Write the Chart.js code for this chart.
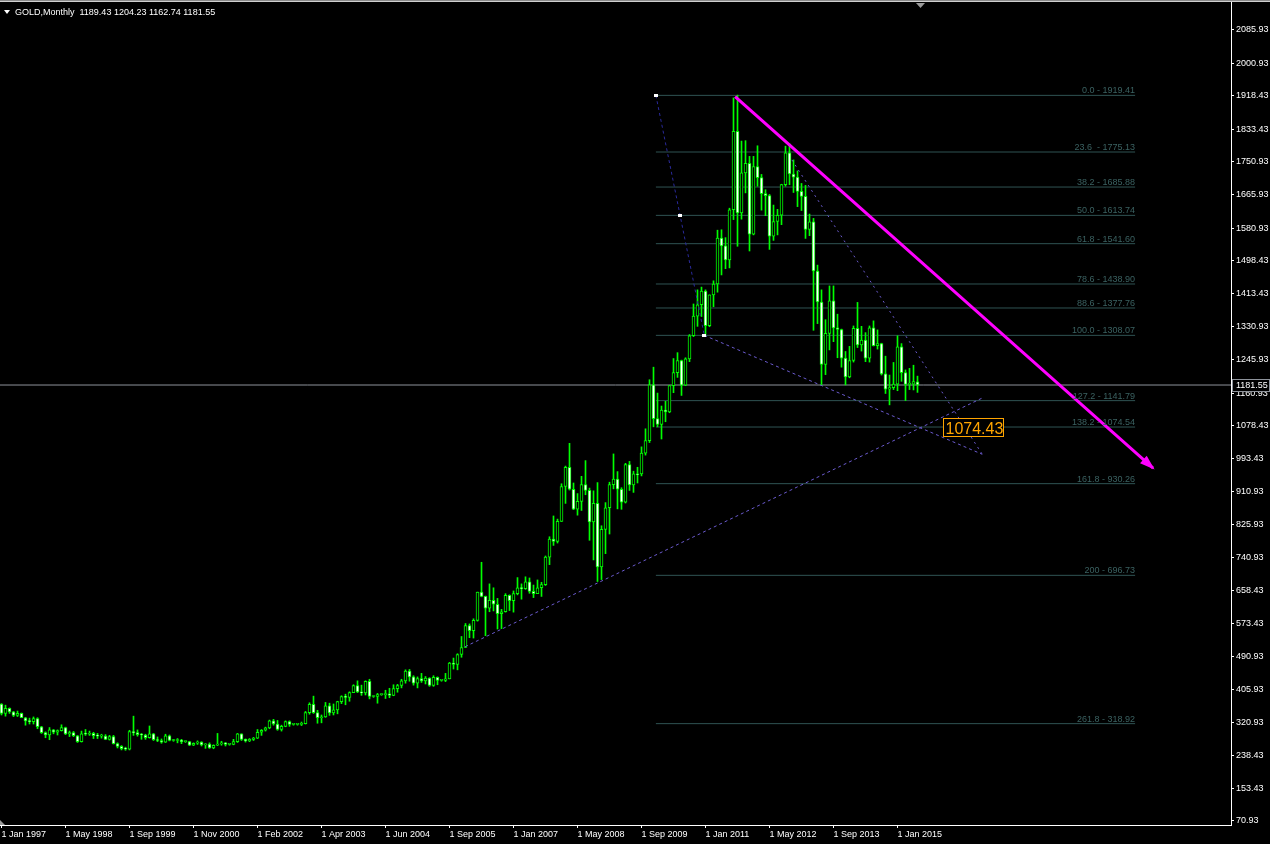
<!DOCTYPE html>
<html>
<head>
<meta charset="utf-8">
<script src="https://cdn.jsdelivr.net/npm/chart.js@4.4.0/dist/chart.umd.min.js"></script>
<style>
  html, body { margin: 0; padding: 0; background: #000; }
  #c { display: block; }
</style>
</head>
<body>
<canvas id="c" width="1270" height="844"></canvas>
<script>
// ---- data ----
const dateTicks = ["1 Jan 1997", "1 May 1998", "1 Sep 1999", "1 Nov 2000", "1 Feb 2002",
  "1 Apr 2003", "1 Jun 2004", "1 Sep 2005", "1 Jan 2007", "1 May 2008", "1 Sep 2009",
  "1 Jan 2011", "1 May 2012", "1 Sep 2013", "1 Jan 2015"];
const barsPerTick = 16;

const priceTicks = [2085.93, 2000.93, 1918.43, 1833.43, 1750.93, 1665.93, 1580.93, 1498.43,
  1413.43, 1330.93, 1245.93, 1160.93, 1078.43, 993.43, 910.93, 825.93, 740.93, 658.43,
  573.43, 490.93, 405.93, 320.93, 238.43, 153.43, 70.93];

// monthly bars, one entry per bar
const opens = [
  369,345,358,349,340,345,334,326,324,332,311,296,
  290,303,297,301,309,293,296,288,273,293,292,294,
  288,287,287,279,286,268,261,255,254,299,296,291,
  290,283,293,278,276,272,288,276,276,277,273,273,
  264,269,272,265,267,257,264,267,270,266,266,273,
  293,279,275,279,282,297,302,308,326,318,304,312,
  324,317,317,317,319,347,368,347,334,336,364,346,
  354,375,388,386,398,416,400,397,427,388,388,393,
  393,395,391,408,416,428,453,438,422,434,428,435,
  416,437,429,429,433,473,470,495,513,569,556,582,
  654,643,613,633,623,599,604,646,632,650,665,663,
  680,656,650,665,673,743,789,783,834,923,972,916,
  865,885,928,913,833,880,718,814,869,928,942,916,
  883,979,927,955,955,1008,1040,1182,1096,1081,1118,1113,
  1180,1213,1244,1181,1248,1307,1357,1386,1421,1333,1411,1439,
  1556,1536,1500,1628,1828,1620,1722,1746,1566,1738,1710,1669,
  1664,1561,1598,1614,1692,1773,1719,1711,1675,1662,1578,1597,
  1472,1393,1234,1313,1396,1327,1323,1250,1202,1244,1326,1284,
  1296,1250,1327,1282,1287,1210,1171,1175,1184,1279,1213,1183,1184,1189.43
];
const highs = [
  370,366,359,350,351,346,335,333,336,334,312,298,
  309,304,303,316,310,300,299,289,300,304,300,297,
  294,292,291,289,289,270,263,259,302,338,303,294,
  292,313,294,285,280,292,290,279,281,279,275,274,
  270,275,273,268,270,265,294,274,271,268,279,294,
  293,280,281,284,304,304,310,328,330,327,315,326,
  326,319,319,323,350,372,389,353,341,373,371,369,
  376,390,394,400,418,428,417,428,432,390,396,395,
  404,409,418,419,432,456,457,441,438,447,439,436,
  441,438,431,447,475,486,497,541,574,573,586,654,
  730,644,675,665,638,610,650,647,657,691,675,693,
  690,672,685,679,746,795,848,840,930,975,1033,932,
  905,949,989,919,912,933,823,882,934,1006,961,920,
  982,987,962,972,1024,1070,1195,1227,1161,1128,1140,1180,
  1249,1264,1245,1251,1310,1388,1424,1431,1424,1411,1447,1576,
  1577,1557,1632,1913,1920,1803,1804,1764,1764,1791,1718,1679,
  1667,1640,1629,1693,1790,1796,1755,1727,1695,1690,1617,1606,
  1487,1424,1348,1434,1434,1362,1324,1267,1280,1332,1392,1331,
  1315,1332,1345,1322,1288,1255,1207,1239,1307,1287,1220,1224,1232,1204.23
];
const lows = [
  341,338,345,337,337,334,315,318,318,306,294,283,
  278,293,290,300,291,286,286,271,272,289,289,281,
  281,282,278,277,267,257,252,251,252,289,287,279,
  279,282,276,273,269,271,275,274,270,268,271,263,
  263,266,262,256,256,255,263,264,262,264,265,271,
  276,272,273,276,281,289,300,306,315,302,300,311,
  312,315,315,314,318,343,345,320,321,335,340,341,
  344,370,367,376,398,398,391,392,382,386,371,391,
  383,385,390,399,410,422,427,417,410,424,420,414,
  414,418,427,426,433,458,456,488,513,538,537,580,
  642,543,604,606,560,561,603,607,603,647,636,661,
  651,640,650,643,671,724,773,779,834,880,914,864,
  850,862,902,786,736,681,686,752,802,917,866,865,
  881,913,908,932,950,1003,1035,1075,1075,1044,1088,1111,
  1162,1201,1155,1180,1241,1305,1331,1356,1308,1330,1381,1418,
  1462,1478,1480,1603,1535,1604,1671,1523,1564,1688,1627,1613,
  1527,1550,1564,1590,1688,1692,1672,1636,1626,1555,1562,1321,
  1338,1180,1208,1271,1292,1251,1227,1182,1200,1240,1277,1268,
  1241,1240,1281,1273,1207,1160,1131,1170,1167,1191,1142,1170,1169,1162.74
];
const closes = [
  345,358,349,340,345,334,326,324,332,311,296,290,
  303,297,301,309,293,296,288,273,293,292,294,288,
  287,287,279,286,268,261,255,254,299,296,291,290,
  283,293,278,276,272,288,276,276,277,273,273,264,
  269,272,265,267,257,264,267,270,266,266,273,293,
  279,275,279,282,297,302,308,326,318,304,312,324,
  317,317,317,319,347,368,347,334,336,364,346,354,
  375,388,386,398,416,400,397,427,388,388,393,393,
  395,391,408,416,428,453,438,422,434,428,435,416,
  437,429,429,433,473,470,495,513,569,556,582,654,
  643,613,633,623,599,604,646,632,650,665,663,680,
  656,650,665,673,743,789,783,834,923,972,916,865,
  885,928,913,833,880,718,814,869,928,942,916,883,
  979,927,955,953,1008,1040,1182,1096,1081,1118,1113,1180,
  1213,1244,1181,1248,1307,1357,1386,1421,1333,1411,1439,1556,
  1536,1500,1628,1828,1620,1722,1746,1566,1738,1710,1669,1664,
  1561,1598,1614,1692,1773,1719,1711,1675,1662,1578,1597,1472,
  1393,1234,1313,1396,1327,1323,1250,1202,1244,1326,1284,1296,
  1250,1327,1282,1287,1210,1171,1175,1184,1279,1213,1183,1184,1190,1181.55
];

// fibonacci retracement (levels and prices as labelled on the chart)
const fibLabels = ["0.0 - 1919.41", "23.6  - 1775.13", "38.2 - 1685.88", "50.0 - 1613.74",
  "61.8 - 1541.60", "78.6 - 1438.90", "88.6 - 1377.76", "100.0 - 1308.07", "127.2 - 1141.79",
  "138.2 - 1074.54", "161.8 - 930.26", "200 - 696.73", "261.8 - 318.92"];
const fibPrices = [1919.41, 1775.13, 1685.88, 1613.74, 1541.60, 1438.90, 1377.76, 1308.07,
  1141.79, 1074.54, 930.26, 696.73, 318.92];

const titleText = "GOLD,Monthly  1189.43 1204.23 1162.74 1181.55";
const markText = "1074.43";

// ---- layout (bar-index / price coordinates of drawn objects) ----
const X_MIN = -0.375, X_MAX = 307.375;
const Y_MIN = 60.74, Y_MAX = 2162.35;
const AXIS_W = 39, AXIS_H = 19;
const FIB_X0 = 163.6, FIB_X1 = 283.4;
const FIB_ANCHOR = [{x: 163.6, y: 1919.41}, {x: 175.7, y: 1308.07}];
const ARROW = [{x: 183.4, y: 1916}, {x: 287.9, y: 970}];
const LINE_A = [{x: 175.7, y: 1308.07}, {x: 245.2, y: 1005}];
const LINE_B = [{x: 115.9, y: 515}, {x: 245.1, y: 1148}];
const LINE_C = [{x: 197.6, y: 1755}, {x: 245.2, y: 1005}];
const MARK_POS = {x: 235.45, y: 1096.8};

const GREEN = '#00ff00';
const FIB_COL = '#2f5353';
const BLUE = '#6a5acd';

Chart.defaults.font.family = 'Liberation Sans';

const bodies = opens.map((o, i) => ({x: i, y: [Math.min(o, closes[i]), Math.max(o, closes[i])]}));
const wicks = highs.map((h, i) => ({x: i, y: [lows[i], h]}));
const bodyFill = opens.map((o, i) => closes[i] < o ? '#ffffff' : '#000000');

const lineDs = (pts, color, width, dash, order) => ({
  type: 'line', data: pts, borderColor: color, borderWidth: width, borderDash: dash || [],
  pointRadius: 0, fill: false, tension: 0, order: order
});

const datasets = [
  {type: 'bar', data: bodies, backgroundColor: bodyFill, borderColor: GREEN, borderWidth: 1,
    borderSkipped: false, barThickness: 3, grouped: false, minBarLength: 1, order: 0},
  {type: 'bar', data: wicks, backgroundColor: GREEN, borderWidth: 0,
    barThickness: 1, grouped: false, order: 1},
  lineDs([{x: X_MIN, y: closes[closes.length - 1]}, {x: X_MAX, y: closes[closes.length - 1]}], '#8e939b', 1, null, 2),
  lineDs(FIB_ANCHOR, '#2a2a9c', 1, [3, 3], -1),
  lineDs(LINE_A, BLUE, 1, [3, 3], -1),
  lineDs(LINE_B, BLUE, 1, [3, 3], -1),
  lineDs(LINE_C, BLUE, 1, [2, 4], -1),
  lineDs(ARROW, '#ff00ff', 3, null, -2)
];
fibPrices.forEach(p => datasets.push(lineDs([{x: FIB_X0, y: p}, {x: FIB_X1, y: p}], FIB_COL, 1, null, 3)));

const overlay = {
  id: 'overlay',
  afterDatasetsDraw(chart) {
    const {ctx, scales: {x, y}} = chart;
    ctx.save();
    // fib level texts
    ctx.font = '9px "Liberation Sans"';
    ctx.fillStyle = '#3b6262';
    ctx.textAlign = 'right';
    ctx.textBaseline = 'alphabetic';
    const fx = x.getPixelForValue(FIB_X1);
    fibPrices.forEach((p, k) => ctx.fillText(fibLabels[k], fx, y.getPixelForValue(p) - 2));

    // fib handles
    ctx.fillStyle = '#ffffff';
    const a = FIB_ANCHOR.map(pt => [x.getPixelForValue(pt.x), y.getPixelForValue(pt.y)]);
    [a[0], [(a[0][0] + a[1][0]) / 2, (a[0][1] + a[1][1]) / 2], a[1]].forEach(([px, py]) => {
      ctx.fillRect(Math.round(px) - 2, Math.round(py) - 1, 4, 3);
    });

    // arrow head
    const x1 = x.getPixelForValue(ARROW[0].x), y1 = y.getPixelForValue(ARROW[0].y);
    const x2 = x.getPixelForValue(ARROW[1].x), y2 = y.getPixelForValue(ARROW[1].y);
    const ang = Math.atan2(y2 - y1, x2 - x1);
    ctx.fillStyle = '#ff00ff';
    ctx.beginPath();
    ctx.moveTo(x2 + 2 * Math.cos(ang), y2 + 2 * Math.sin(ang));
    ctx.lineTo(x2 - 13 * Math.cos(ang) + 5 * Math.sin(ang), y2 - 13 * Math.sin(ang) - 5 * Math.cos(ang));
    ctx.lineTo(x2 - 13 * Math.cos(ang) - 5 * Math.sin(ang), y2 - 13 * Math.sin(ang) + 5 * Math.cos(ang));
    ctx.closePath();
    ctx.fill();

    // marked price
    const mx = Math.round(x.getPixelForValue(MARK_POS.x)) + 0.5;
    const my = Math.round(y.getPixelForValue(MARK_POS.y)) + 0.5;
    ctx.fillStyle = '#000000';
    ctx.fillRect(mx, my, 60, 18);
    ctx.strokeStyle = '#ffa500';
    ctx.lineWidth = 1;
    ctx.strokeRect(mx, my, 60, 18);
    ctx.fillStyle = '#ffa500';
    ctx.font = '16px "Liberation Sans"';
    ctx.textAlign = 'left';
    ctx.textBaseline = 'alphabetic';
    ctx.fillText(markText, mx + 2, my + 15);
    ctx.restore();
  },
  afterDraw(chart) {
    const {ctx, chartArea, scales: {y}} = chart;
    ctx.save();
    // window border at top
    ctx.fillStyle = '#8a8a8a';
    ctx.fillRect(0, 0, 1270, 1);
    ctx.fillStyle = '#cfcfcf';
    ctx.fillRect(0, 1, 1270, 1);
    // title
    ctx.fillStyle = '#ffffff';
    ctx.beginPath();
    ctx.moveTo(4, 10); ctx.lineTo(10, 10); ctx.lineTo(7, 14); ctx.closePath();
    ctx.fill();
    ctx.font = '9px "Liberation Sans"';
    ctx.textAlign = 'left';
    ctx.textBaseline = 'alphabetic';
    ctx.fillText(titleText, 15, 15);
    // chart shift marker
    ctx.fillStyle = '#9a9a9a';
    ctx.beginPath();
    ctx.moveTo(916, 3); ctx.lineTo(925, 3); ctx.lineTo(920.5, 8); ctx.closePath();
    ctx.fill();
    // corner marker
    ctx.beginPath();
    ctx.moveTo(0, chartArea.bottom - 5); ctx.lineTo(5, chartArea.bottom); ctx.lineTo(0, chartArea.bottom); ctx.closePath();
    ctx.fill();
    // current price label
    const py = Math.round(y.getPixelForValue(closes[closes.length - 1]));
    ctx.fillStyle = '#000000';
    ctx.fillRect(chartArea.right + 1, py - 6, 38, 13);
    ctx.strokeStyle = '#8e939b';
    ctx.strokeRect(chartArea.right + 1.5, py - 5.5, 37, 12);
    ctx.fillStyle = '#ffffff';
    ctx.font = '9px "Liberation Sans"';
    ctx.textBaseline = 'middle';
    ctx.fillText((closes[closes.length - 1]).toFixed(2), chartArea.right + 5, py + 0.5);
    ctx.restore();
  }
};

new Chart(document.getElementById('c'), {
  type: 'bar',
  data: {datasets: datasets},
  options: {
    responsive: false,
    animation: false,
    devicePixelRatio: 1,
    layout: {padding: 0},
    plugins: {legend: {display: false}, tooltip: {enabled: false}},
    scales: {
      x: {
        type: 'linear', min: X_MIN, max: X_MAX, offset: false,
        grid: {drawOnChartArea: false, drawTicks: true, tickLength: 3, color: '#ffffff', offset: false},
        border: {display: true, color: '#ffffff', width: 1},
        ticks: {
          color: '#ffffff', font: {size: 9}, padding: 1, align: 'start',
          autoSkip: false, maxRotation: 0, minRotation: 0,
          callback: v => dateTicks[Math.round(v / barsPerTick)] || ''
        },
        afterBuildTicks: s => { s.ticks = dateTicks.map((t, k) => ({value: k * barsPerTick})); },
        afterFit: s => { s.height = AXIS_H; s.paddingLeft = 0; s.paddingRight = 0; }
      },
      y: {
        type: 'linear', position: 'right', min: Y_MIN, max: Y_MAX, beginAtZero: false,
        grid: {drawOnChartArea: false, drawTicks: true, tickLength: 3, color: '#ffffff'},
        border: {display: true, color: '#ffffff', width: 1},
        ticks: {color: '#ffffff', font: {size: 9}, padding: 2, autoSkip: false,
          callback: v => v.toFixed(2)},
        afterBuildTicks: s => { s.ticks = priceTicks.map(v => ({value: v})); },
        afterFit: s => { s.width = AXIS_W; s.paddingTop = 0; s.paddingBottom = 0; }
      }
    }
  },
  plugins: [overlay]
});
</script>
</body>
</html>
